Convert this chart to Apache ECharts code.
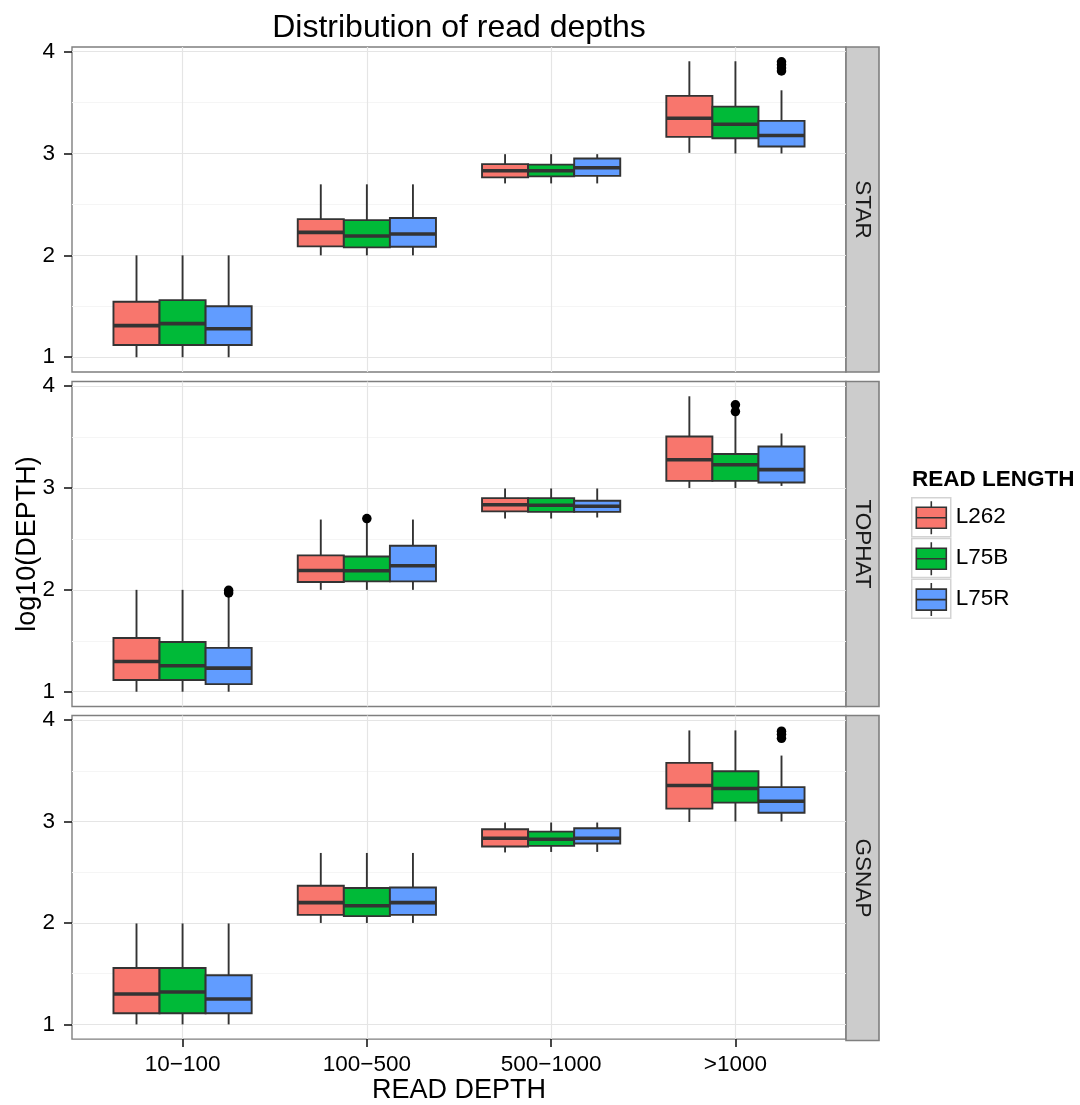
<!DOCTYPE html>
<html>
<head>
<meta charset="utf-8">
<script src="https://cdn.jsdelivr.net/npm/echarts@6/dist/echarts.min.js"></script>
<style>
  html, body { margin: 0; padding: 0; background: #ffffff; }
  #main { width: 1080px; height: 1105px; }
</style>
</head>
<body>
<div id="main"></div>
<script>
// depth bins on the x axis, read lengths as fill, aligners as facets
var categories = ["10−100", "100−500", "500−1000", ">1000"];
var readLengths = ["L262", "L75B", "L75R"];
var aligners = ["STAR", "TOPHAT", "GSNAP"];
var colors = ["#F8766D", "#00BA38", "#619CFF"];

// each row: [min, Q1, median, Q3, max] for one depth bin
var star_L262 = [[1.0, 1.12, 1.31, 1.545, 2.0], [2.0, 2.088, 2.225, 2.356, 2.697], [2.706, 2.765, 2.83, 2.895, 2.993], [3.006, 3.163, 3.346, 3.565, 3.905]];
var star_L75B = [[1.0, 1.12, 1.33, 1.56, 2.0], [2.0, 2.078, 2.19, 2.346, 2.697], [2.706, 2.775, 2.83, 2.89, 2.993], [3.0, 3.15, 3.287, 3.46, 3.905]];
var star_L75R = [[1.0, 1.12, 1.28, 1.50, 2.0], [2.0, 2.084, 2.21, 2.366, 2.697], [2.706, 2.78, 2.86, 2.95, 2.993], [3.0, 3.068, 3.176, 3.32, 3.62]];

var tophat_L262 = [[1.0, 1.115, 1.297, 1.527, 2.0], [2.0, 2.077, 2.19, 2.338, 2.69], [2.70, 2.77, 2.835, 2.90, 2.995], [3.0, 3.07, 3.277, 3.505, 3.90]];
var tophat_L75B = [[1.0, 1.115, 1.255, 1.488, 2.0], [2.0, 2.083, 2.187, 2.328, 2.67], [2.70, 2.765, 2.83, 2.90, 2.995], [3.0, 3.07, 3.228, 3.333, 3.71]];
var tophat_L75R = [[1.0, 1.075, 1.232, 1.43, 1.95], [2.0, 2.083, 2.236, 2.433, 2.69], [2.71, 2.765, 2.82, 2.874, 2.995], [3.02, 3.054, 3.18, 3.407, 3.535]];

var gsnap_L262 = [[1.0, 1.11, 1.30, 1.556, 1.995], [2.0, 2.08, 2.20, 2.367, 2.69], [2.695, 2.754, 2.835, 2.923, 2.99], [2.995, 3.127, 3.355, 3.578, 3.898]];
var gsnap_L75B = [[1.0, 1.11, 1.32, 1.556, 1.995], [2.0, 2.067, 2.17, 2.344, 2.69], [2.70, 2.76, 2.825, 2.90, 2.99], [3.0, 3.186, 3.326, 3.496, 3.898]];
var gsnap_L75R = [[1.0, 1.11, 1.25, 1.484, 1.995], [2.0, 2.08, 2.20, 2.35, 2.69], [2.70, 2.783, 2.835, 2.933, 2.99], [3.0, 3.087, 3.20, 3.339, 3.65]];

// outliers: [depth bin index, read length index, value]
var star_outliers = [[3, 2, 3.90], [3, 2, 3.87], [3, 2, 3.84], [3, 2, 3.81]];
var tophat_outliers = [[0, 2, 1.995], [0, 2, 1.97], [1, 1, 2.70], [3, 1, 3.816], [3, 1, 3.75]];
var gsnap_outliers = [[3, 2, 3.89], [3, 2, 3.86], [3, 2, 3.82]];

var boxStats = [
    [star_L262, star_L75B, star_L75R],
    [tophat_L262, tophat_L75B, tophat_L75R],
    [gsnap_L262, gsnap_L75B, gsnap_L75R]
];
var outliers = [star_outliers, tophat_outliers, gsnap_outliers];

var FONT = "Liberation Sans, Arial, Helvetica, sans-serif";
var panelLeft = 72, panelWidth = 774, panelHeight = 325, stripWidth = 33;
var panelTops = [47, 381.5, 715.5];
var yMin = 0.855, yMax = 4.045;
var dodge = 0.25, halfBox = 0.125;

function renderBox(params, api) {
    var x = api.value(0);
    var lo = api.coord([x - halfBox, api.value(2)]);
    var hi = api.coord([x + halfBox, api.value(4)]);
    var pMin = api.coord([x, api.value(1)]);
    var pMax = api.coord([x, api.value(5)]);
    var m0 = api.coord([x - halfBox, api.value(3)]);
    var m1 = api.coord([x + halfBox, api.value(3)]);
    var edge = {stroke: "#333333", lineWidth: 1.9};
    return {
        type: "group",
        children: [
            {type: "line", shape: {x1: pMax[0], y1: pMax[1], x2: pMax[0], y2: hi[1]}, style: edge},
            {type: "line", shape: {x1: pMin[0], y1: pMin[1], x2: pMin[0], y2: lo[1]}, style: edge},
            {type: "rect", shape: {x: lo[0], y: hi[1], width: hi[0] - lo[0], height: lo[1] - hi[1]},
                style: {fill: api.visual("color"), stroke: "#333333", lineWidth: 1.9}},
            {type: "line", shape: {x1: m0[0], y1: m0[1], x2: m1[0], y2: m1[1]},
                style: {stroke: "#333333", lineWidth: 3.6}}
        ]
    };
}

var grids = [], xAxes = [], yAxes = [], series = [];

for (var p = 0; p < aligners.length; p++) {
    var isBottom = p === aligners.length - 1;
    var isMiddle = p === 1;
    var panelGrid = grids.length;
    grids.push({
        left: panelLeft, top: panelTops[p], width: panelWidth, height: panelHeight,
        show: true, backgroundColor: "#ffffff", borderColor: "#7f7f7f", borderWidth: 1.4
    });
    var stripGrid = grids.length;
    grids.push({
        left: panelLeft + panelWidth, top: panelTops[p], width: stripWidth, height: panelHeight,
        show: true, backgroundColor: "#cccccc", borderColor: "#7f7f7f", borderWidth: 1.6
    });

    var panelX = xAxes.length;
    xAxes.push({
        gridIndex: panelGrid, type: "value", min: 0.4, max: 4.6,
        axisLine: {show: false},
        axisTick: {show: isBottom, length: 8, customValues: [1, 2, 3, 4], lineStyle: {color: "#1a1a1a", width: 1.6}},
        axisLabel: {
            show: isBottom, customValues: [1, 2, 3, 4], margin: 14,
            fontSize: 22.5, color: "#000000", fontFamily: FONT,
            formatter: function (v) { return categories[Math.round(v) - 1]; }
        },
        splitLine: {show: true, lineStyle: {color: "#e5e5e5", width: 1.2}},
        name: isBottom ? "READ DEPTH" : "",
        nameLocation: "middle", nameGap: 37,
        nameTextStyle: {fontSize: 27, color: "#000000", fontFamily: FONT}
    });
    xAxes.push({gridIndex: stripGrid, type: "value", show: false});

    var panelY = yAxes.length;
    yAxes.push({
        gridIndex: panelGrid, type: "value", min: yMin, max: yMax,
        axisLine: {show: false},
        axisTick: {show: true, length: 8, customValues: [1, 2, 3, 4], lineStyle: {color: "#1a1a1a", width: 1.6}},
        axisLabel: {customValues: [1, 2, 3, 4], margin: 17, fontSize: 22.5, color: "#000000", fontFamily: FONT},
        splitLine: {show: true, lineStyle: {color: "#e5e5e5", width: 1.2}},
        name: isMiddle ? "log10(DEPTH)" : "",
        nameLocation: "middle", nameGap: 31, nameMoveOverlap: false,
        nameTextStyle: {fontSize: 27, color: "#000000", fontFamily: FONT}
    });
    // minor grid lines
    yAxes.push({
        gridIndex: panelGrid, type: "value", min: yMin, max: yMax,
        axisLine: {show: false},
        axisTick: {show: false, customValues: [1.5, 2.5, 3.5]},
        axisLabel: {show: false, customValues: [1.5, 2.5, 3.5]},
        splitLine: {show: true, lineStyle: {color: "#f5f5f5", width: 1.2}}
    });
    // facet strip label
    yAxes.push({
        gridIndex: stripGrid, type: "value", position: "right",
        axisLine: {show: false}, axisTick: {show: false}, axisLabel: {show: false}, splitLine: {show: false},
        name: aligners[p], nameLocation: "middle", nameRotate: -90, nameGap: -stripWidth / 2,
        nameTextStyle: {fontSize: 22.5, color: "#1a1a1a", fontFamily: FONT, align: "center", verticalAlign: "middle"}
    });

    for (var s = 0; s < readLengths.length; s++) {
        var rows = boxStats[p][s];
        var data = [];
        for (var c = 0; c < rows.length; c++) {
            data.push([c + 1 + (s - 1) * dodge].concat(rows[c]));
        }
        series.push({
            name: readLengths[s],
            type: "custom",
            xAxisIndex: panelX, yAxisIndex: panelY,
            renderItem: renderBox,
            itemStyle: {color: colors[s]},
            encode: {x: 0, y: [1, 2, 3, 4, 5]},
            data: data
        });
    }

    var pts = [];
    for (var k = 0; k < outliers[p].length; k++) {
        var o = outliers[p][k];
        pts.push([o[0] + 1 + (o[1] - 1) * dodge, o[2]]);
    }
    series.push({
        type: "scatter",
        xAxisIndex: panelX, yAxisIndex: panelY,
        symbolSize: 9.5,
        itemStyle: {color: "#000000", opacity: 1},
        data: pts
    });
}

var option = {
    animation: false,
    backgroundColor: "#ffffff",
    textStyle: {fontFamily: FONT},
    title: [
        {
            text: "Distribution of read depths", left: 459, top: 11, textAlign: "center", padding: 0,
            textStyle: {fontSize: 32, fontWeight: "normal", color: "#000000", fontFamily: FONT, lineHeight: 34}
        },
        {
            text: "READ LENGTH", left: 912, top: 468, padding: 0,
            textStyle: {fontSize: 22.5, fontWeight: "bold", color: "#000000", fontFamily: FONT}
        }
    ],
    legend: [
        {
            data: readLengths, orient: "vertical", left: 911, top: 497, padding: 0, z: 2,
            icon: "rect", itemWidth: 39, itemHeight: 39, itemGap: 0.3, itemTextGap: 6,
            itemStyle: {color: "#ffffff", borderColor: "#d3d3d3", borderWidth: 1.5},
            textStyle: {fontSize: 22.5, color: "#000000", fontFamily: FONT},
            selectedMode: false
        },
        {
            data: readLengths, orient: "vertical", left: 915.5, top: 500.5, padding: 0, z: 3,
            icon: "path://M15,0V6M15,27V33M0,6H30V27H0ZM0,16.5H30",
            itemWidth: 30, itemHeight: 33, itemGap: 6.3,
            itemStyle: {borderColor: "#333333", borderWidth: 1.6},
            formatter: function () { return ""; },
            textStyle: {fontSize: 1},
            selectedMode: false
        }
    ],
    grid: grids,
    xAxis: xAxes,
    yAxis: yAxes,
    series: series
};

var chart = echarts.init(document.getElementById("main"));
chart.setOption(option);
</script>
</body>
</html>
